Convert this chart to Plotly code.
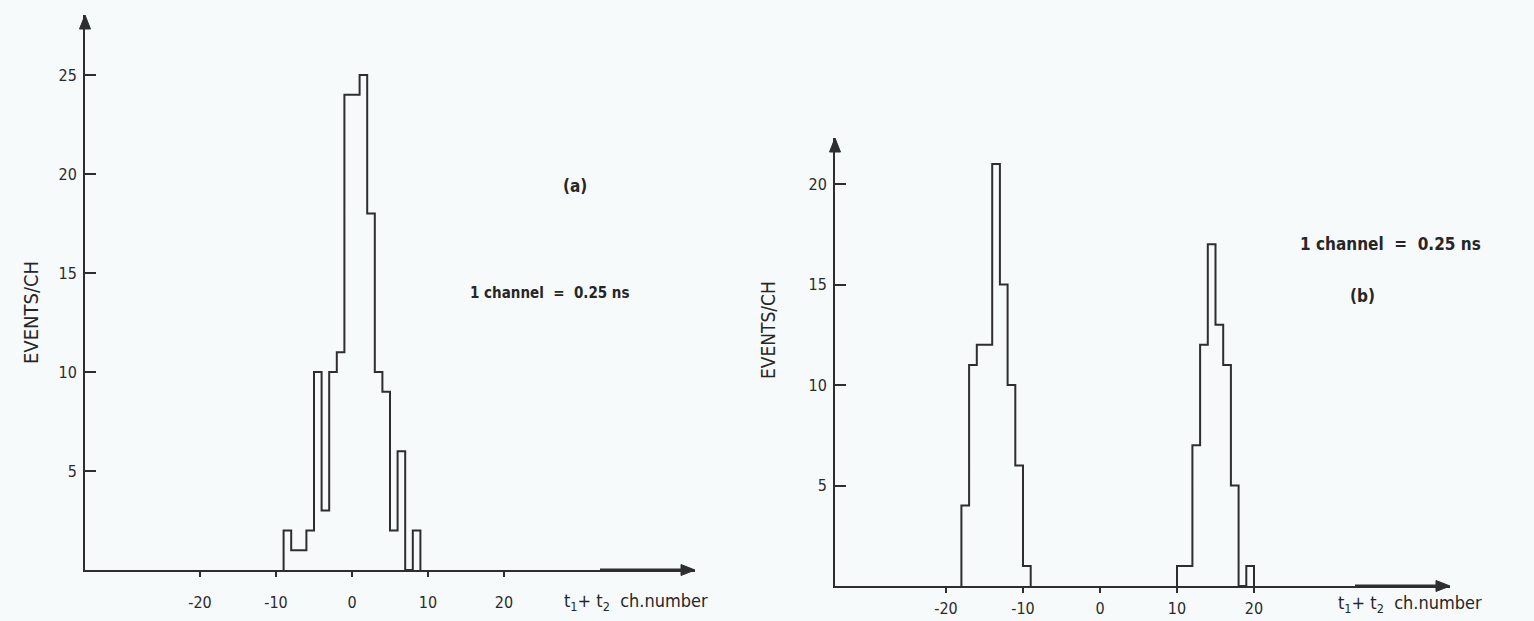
import plotly.graph_objects as go

W, H = 1534, 621

# ---------------- data ----------------
# panel (a): histogram, one value per channel, left bin edges
a_channels = list(range(-9, 9))
a_counts = [2, 1, 1, 2, 10, 3, 10, 11, 24, 24, 25, 18, 10, 9, 2, 6, 0, 2]

# panel (b): two separated peaks
b_left_channels = list(range(-18, -9))
b_left_counts = [4, 11, 12, 12, 21, 15, 10, 6, 1]
b_right_channels = list(range(10, 20))
b_right_counts = [1, 1, 7, 12, 17, 13, 11, 5, 0, 1]

x_ticks = [-20, -10, 0, 10, 20]
x_ticktext = ["-20", "-10", "0", "10", "20"]
a_yticks = [5, 10, 15, 20, 25]
b_yticks = [5, 10, 15, 20]

y_title = "EVENTS/CH"
x_title = "t<sub>1</sub>+ t<sub>2</sub>\u00a0 ch.number"
scale_note = "1 channel\u00a0 =\u00a0 0.25 ns"

# ---------------- styling ----------------
INK = "#2e2e2e"
BG = "#f7fafa"
FONT = "DejaVu Sans Condensed, Liberation Sans Narrow, DejaVu Sans, sans-serif"


def step_outline(edges, counts):
    xs = [edges[0]]
    ys = [0]
    for e, c in zip(edges, counts):
        xs.append(e)
        ys.append(c)
    xs.append(edges[-1] + 1)
    ys.append(0)
    return xs, ys


fig = go.Figure()

xa, ya = step_outline(a_channels, a_counts)
fig.add_trace(go.Scatter(x=xa, y=ya, mode="lines", line=dict(shape="hv", color=INK, width=2),
                         xaxis="x", yaxis="y", showlegend=False, hoverinfo="skip"))
for ch, ct in ((b_left_channels, b_left_counts), (b_right_channels, b_right_counts)):
    xb, yb = step_outline(ch, ct)
    fig.add_trace(go.Scatter(x=xb, y=yb, mode="lines", line=dict(shape="hv", color=INK, width=2),
                             xaxis="x2", yaxis="y2", showlegend=False, hoverinfo="skip"))


def px_x(p):
    return p / W


def px_y(p):
    return (H - p) / H


axis_common = dict(showgrid=False, zeroline=False, showline=True, linecolor=INK, linewidth=2,
                   tickcolor=INK, tickfont=dict(size=16, color="#2a2a2a", family=FONT),
                   automargin=False, fixedrange=True)

# panel (a): y-axis at x=85px, baseline y=570px, 7.6 px/channel (0 at 352px), 19.8 px/event
A_X0, A_XR, A_CH0, A_PXC = 85, 695, 352, 7.6
A_Y0, A_YT, A_PXV = 570, 15, 19.8
# panel (b): y-axis at x=835px, baseline y=586px, 7.7 px/channel (0 at 1100px), 20.1 px/event
B_X0, B_XR, B_CH0, B_PXC = 835, 1450, 1100, 7.7
B_Y0, B_YT, B_PXV = 586, 138, 20.1

fig.update_layout(
    xaxis=dict(domain=[px_x(A_X0), px_x(A_XR)],
               range=[(A_X0 - A_CH0) / A_PXC, (A_XR - A_CH0) / A_PXC],
               anchor="y", tickvals=x_ticks, ticktext=x_ticktext, ticks="outside", ticklen=5,
               tickwidth=1.5, ticklabelstandoff=12, **axis_common),
    yaxis=dict(domain=[px_y(A_Y0), px_y(A_YT)], range=[0, (A_Y0 - A_YT) / A_PXV], anchor="x",
               tickvals=a_yticks, ticks="inside", ticklen=11, tickwidth=2,
               ticklabelstandoff=3, **axis_common),
    xaxis2=dict(domain=[px_x(B_X0), px_x(B_XR)],
                range=[(B_X0 - B_CH0) / B_PXC, (B_XR - B_CH0) / B_PXC],
                anchor="y2", tickvals=x_ticks, ticktext=x_ticktext, ticks="outside", ticklen=5,
                tickwidth=1.5, ticklabelstandoff=2, **axis_common),
    yaxis2=dict(domain=[px_y(B_Y0), px_y(B_YT)], range=[0, (B_Y0 - B_YT) / B_PXV], anchor="x2",
                tickvals=b_yticks, ticks="inside", ticklen=11, tickwidth=2,
                ticklabelstandoff=3, **axis_common),
)

# arrowheads on the axes, drawn as filled triangles in axis-domain coordinates
shapes = []
for xr, yr, wpx, hpx in (("x", "y", A_XR - A_X0, A_Y0 - A_YT), ("x2", "y2", B_XR - B_X0, B_Y0 - B_YT)):
    hl, hw = 14.0, 5.5  # head length / half-width in pixels
    # up arrow at top of y-axis
    shapes.append(dict(type="path", xref=f"{xr} domain", yref=f"{yr} domain",
                       path=f"M {-hw / wpx},{1 - hl / hpx} L 0,1 L {hw / wpx},{1 - hl / hpx} Z",
                       fillcolor=INK, line=dict(color=INK, width=1)))
    # right arrow at end of x-axis
    shapes.append(dict(type="path", xref=f"{xr} domain", yref=f"{yr} domain",
                       path=f"M {1 - hl / wpx},{hw / hpx} L 1,0 L {1 - hl / wpx},{-hw / hpx} Z",
                       fillcolor=INK, line=dict(color=INK, width=1)))
    # heavier shaft before the arrowhead
    shapes.append(dict(type="line", xref=f"{xr} domain", yref=f"{yr} domain",
                       x0=1 - 95 / wpx, x1=1 - hl / wpx, y0=0, y1=0,
                       line=dict(color=INK, width=3)))

txt = dict(color="#262626", family=FONT)


def note(x, y, text, size, angle=0, anchor="center", weight="normal"):
    return dict(xref="paper", yref="paper", x=px_x(x), y=px_y(y), text=text, textangle=angle,
                xanchor=anchor, yanchor="middle", showarrow=False,
                font=dict(size=size, weight=weight, **txt))


annotations = [
    note(31, 313, y_title, 20, angle=-90),
    note(768, 330, y_title, 19, angle=-90),
    note(562, 602, x_title, 18, anchor="left"),
    note(1336, 604, x_title, 18, anchor="left"),
    note(575, 186, "(a)", 17, weight="bold"),
    note(550, 293, scale_note, 15, weight="bold"),
    note(1362, 296, "(b)", 17, weight="bold"),
    note(1390, 244, scale_note, 17, weight="bold"),
]

fig.update_layout(
    template="none",
    width=W, height=H, autosize=False,
    margin=dict(l=0, r=0, t=0, b=0, pad=0),
    paper_bgcolor=BG, plot_bgcolor="rgba(0,0,0,0)",
    font=dict(family=FONT, color="#333"),
    showlegend=False,
    annotations=annotations,
    shapes=shapes,
)

fig.write_html("out.html", config={"displayModeBar": False},
               post_script="document.body.style.margin='0px';"
                           "document.body.style.background='" + BG + "';")
